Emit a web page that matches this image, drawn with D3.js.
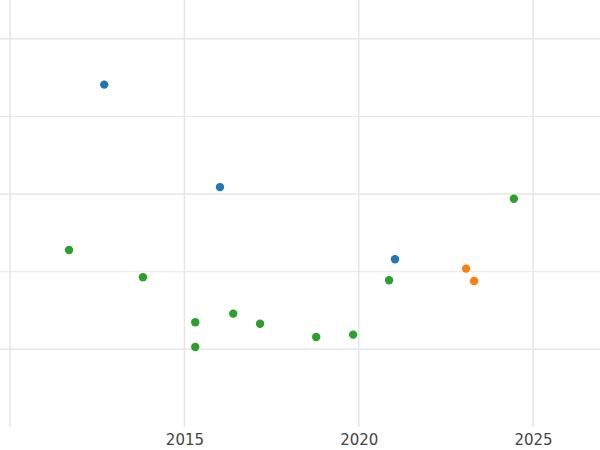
<!DOCTYPE html>
<html>
<head>
<meta charset="utf-8">
<script src="https://cdn.jsdelivr.net/npm/d3@7"></script>
<style>body{margin:0;background:#fff}</style>
</head>
<body>
<div id="chart"></div>
<script>
// values
const blueYears = [2012.70, 2016.02, 2021.04];
const blueValues = [4.41, 3.09, 2.16];
const orangeYears = [2023.08, 2023.31];
const orangeValues = [2.04, 1.88];
const greenYears = [2011.69, 2013.81, 2015.31, 2015.31, 2016.40, 2017.17, 2018.78, 2019.84, 2020.87, 2024.45];
const greenValues = [2.28, 1.93, 1.35, 1.03, 1.46, 1.33, 1.16, 1.19, 1.89, 2.94];
const xTicks = [2015, 2020, 2025];

const width = 600, height = 450;
const svg = d3.select("#chart").append("svg")
    .attr("width", width)
    .attr("height", height);

const x = d3.scaleLinear().domain([2009.71, 2026.92]).range([0, 600]);
const y = d3.scaleLinear().domain([0, 5.5]).range([427, 0]);

// grid
svg.append("g").selectAll("line")
    .data([1, 2, 3, 4, 5])
    .enter().append("line")
    .attr("x1", 0).attr("x2", width)
    .attr("y1", d => y(d)).attr("y2", d => y(d))
    .attr("stroke", "#e6e6e6").attr("stroke-width", d => d % 2 ? 1.5 : 1);

svg.append("g").selectAll("line")
    .data([2010, 2015, 2020, 2025])
    .enter().append("line")
    .attr("x1", d => x(d)).attr("x2", d => x(d))
    .attr("y1", 0).attr("y2", 427)
    .attr("stroke", "#e6e6e6").attr("stroke-width", 1.5);

// x axis labels
const xAxis = svg.append("g")
    .attr("transform", "translate(0,427)")
    .call(d3.axisBottom(x).tickValues(xTicks).tickFormat(d3.format("d")).tickSize(0).tickPadding(7));
xAxis.select(".domain").remove();
xAxis.selectAll("text")
    .attr("fill", "#444")
    .style("font-family", "DejaVu Sans")
    .style("font-size", "15px");

// points
const series = [
    {years: blueYears, values: blueValues, color: "#1f77b4"},
    {years: orangeYears, values: orangeValues, color: "#ff7f0e"},
    {years: greenYears, values: greenValues, color: "#2ca02c"}
];
series.forEach(s => {
    svg.append("g").selectAll("circle")
        .data(s.years.map((yr, i) => ({yr, v: s.values[i]})))
        .enter().append("circle")
        .attr("cx", d => x(d.yr))
        .attr("cy", d => y(d.v))
        .attr("r", 4.2)
        .attr("fill", s.color);
});
</script>
</body>
</html>
